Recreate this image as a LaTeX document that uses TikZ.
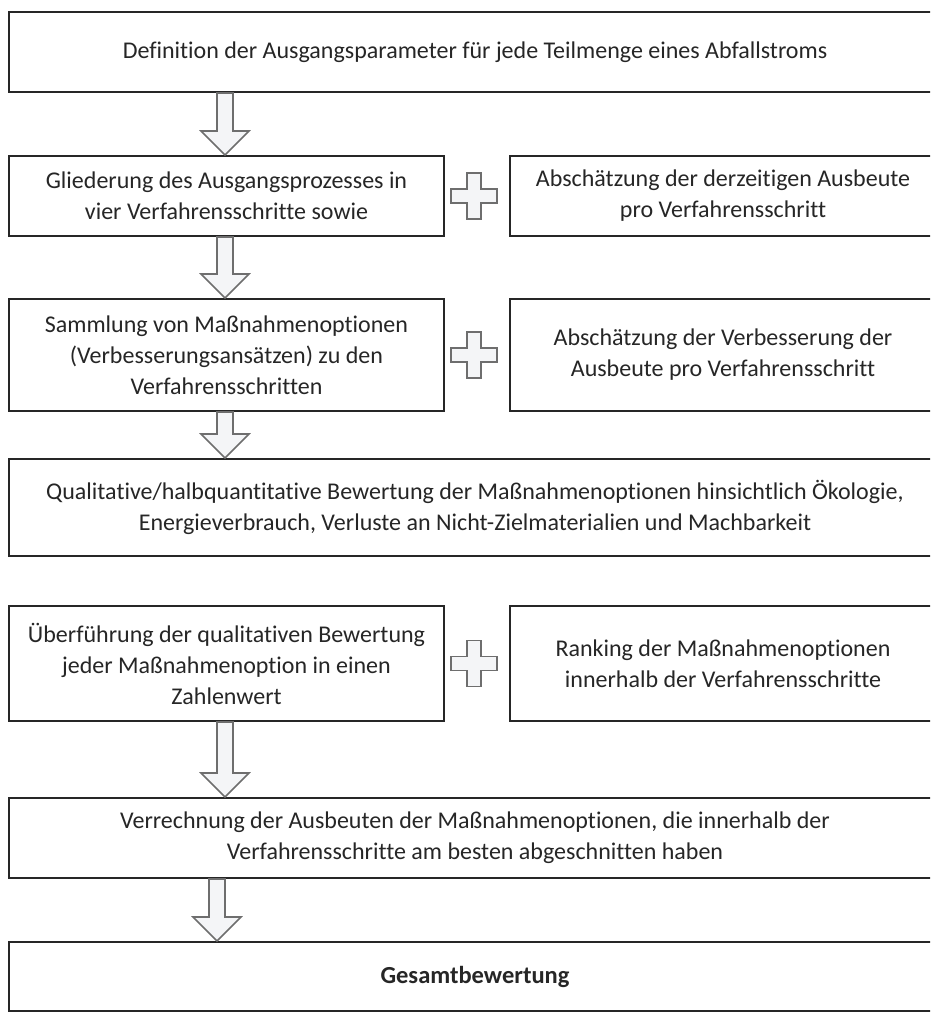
\documentclass[tikz,border=0pt]{standalone}
\usepackage{fontspec}
\setmainfont{Carlito}[Ligatures=CommonOff]
\usetikzlibrary{calc}
\definecolor{boxline}{HTML}{262626}
\definecolor{arrowline}{HTML}{6E6E6E}
\definecolor{arrowfill}{HTML}{F4F5F7}
\definecolor{txt}{HTML}{262626}
\tikzset{
  x=1pt, y=1pt,
  box/.style={draw=boxline, line width=2pt, rectangle, anchor=north west,
    align=center, inner sep=0pt, text=txt,
    font=\fontsize{24}{31}\selectfont},
  blockarrow/.style={draw=arrowline, fill=arrowfill, line width=1.6pt, line join=miter},
  plussign/.style={draw=arrowline, fill=arrowfill, line width=1.6pt},
}
% hollow downward arrow from the bottom of one box to the top of the next
\newcommand{\flowarrow}[3]{%
  \path (#2.south -| #1,0) coordinate (fa-t) (#3.north -| #1,0) coordinate (fa-b);
  \draw[blockarrow] ([xshift=-8pt]fa-t) -- ([xshift=-8pt,yshift=24pt]fa-b)
    -- ([xshift=-24pt,yshift=24pt]fa-b) -- (fa-b)
    -- ([xshift=24pt,yshift=24pt]fa-b) -- ([xshift=8pt,yshift=24pt]fa-b)
    -- ([xshift=8pt]fa-t) -- cycle;}
% hollow plus between two side-by-side boxes
\newcommand{\joinplus}[2]{%
  \path ($(#1.east)!0.5!(#2.west)+(-3,0)$) coordinate (jp);
  \draw[plussign] ([xshift=-7pt,yshift=23pt]jp) -- ([xshift=7pt,yshift=23pt]jp)
    -- ([xshift=7pt,yshift=7pt]jp) -- ([xshift=23pt,yshift=7pt]jp)
    -- ([xshift=23pt,yshift=-7pt]jp) -- ([xshift=7pt,yshift=-7pt]jp)
    -- ([xshift=7pt,yshift=-23pt]jp) -- ([xshift=-7pt,yshift=-23pt]jp)
    -- ([xshift=-7pt,yshift=-7pt]jp) -- ([xshift=-23pt,yshift=-7pt]jp)
    -- ([xshift=-23pt,yshift=7pt]jp) -- ([xshift=-7pt,yshift=7pt]jp) -- cycle;}
\begin{document}
\begin{tikzpicture}
\clip (0,0) rectangle (930,-1016);
\fill[white] (0,0) rectangle (930,-1016);

\node[box, minimum width=932pt, minimum height=80pt] (b1) at (8,-11)
  {Definition der Ausgangsparameter für jede Teilmenge eines Abfallstroms};

\node[box, minimum width=435pt, minimum height=80pt] (b2) at (8,-155)
  {Gliederung des Ausgangsprozesses in\\vier Verfahrensschritte sowie};
\node[box, minimum width=426pt, minimum height=80pt] (b3) at (509,-155)
  {Abschätzung der derzeitigen Ausbeute\\pro Verfahrensschritt};

\node[box, minimum width=435pt, minimum height=112pt] (b4) at (8,-298)
  {Sammlung von Maßnahmenoptionen\\(Verbesserungsansätzen) zu den\\Verfahrensschritten};
\node[box, minimum width=426pt, minimum height=112pt] (b5) at (509,-298)
  {Abschätzung der Verbesserung der\\Ausbeute pro Verfahrensschritt};

\node[box, minimum width=932pt, minimum height=97pt] (b6) at (8,-458)
  {Qualitative/halbquantitative Bewertung der Maßnahmenoptionen hinsichtlich Ökologie,\\Energieverbrauch, Verluste an Nicht-Zielmaterialien und Machbarkeit};

\node[box, minimum width=435pt, minimum height=115pt] (b7) at (8,-605)
  {Überführung der qualitativen Bewertung\\jeder Maßnahmenoption in einen\\Zahlenwert};
\node[box, minimum width=426pt, minimum height=115pt] (b8) at (509,-605)
  {Ranking der Maßnahmenoptionen\\innerhalb der Verfahrensschritte};

\node[box, minimum width=932pt, minimum height=80pt] (b9) at (8,-797)
  {Verrechnung der Ausbeuten der Maßnahmenoptionen, die innerhalb der\\Verfahrensschritte am besten abgeschnitten haben};

\node[box, minimum width=932pt, minimum height=69pt,
  font=\fontsize{24.5}{30}\selectfont\bfseries] (b10) at (8,-941)
  {Gesamtbewertung};

\flowarrow{225}{b1}{b2}
\flowarrow{225}{b2}{b4}
\flowarrow{225}{b4}{b6}
\flowarrow{225}{b7}{b9}
\flowarrow{217}{b9}{b10}

\joinplus{b2}{b3}
\joinplus{b4}{b5}
\joinplus{b7}{b8}
\end{tikzpicture}
\end{document}
